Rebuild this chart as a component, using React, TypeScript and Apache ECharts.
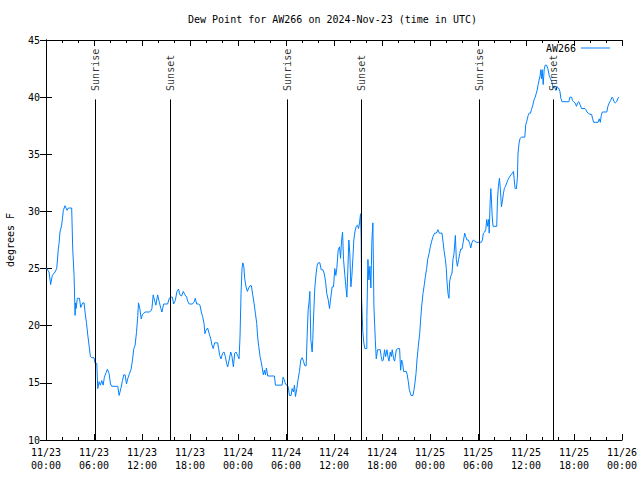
import React, { useEffect, useRef } from "react";
import * as echarts from "echarts";

// Hours after 2024-11-23 00:00 UTC
const hoursUTC = [
  0.0, 0.1, 0.38, 0.58, 0.79, 1.13, 1.34, 1.54, 1.63, 1.75, 1.96, 2.17, 2.38, 2.63, 2.8, 3.21, 3.34, 3.51, 3.63, 3.7,
  3.76, 3.92, 4.18, 4.34, 4.59, 4.76, 4.88, 5.05, 5.22, 5.38, 5.55, 5.72, 6.01, 6.14, 6.35, 6.47, 6.64, 6.8, 6.97, 7.14,
  7.3, 7.51, 7.68, 7.89, 8.06, 8.22, 8.97, 9.14, 9.39, 9.56, 9.72, 9.89, 10.06, 10.23, 10.43, 10.64, 10.81, 10.98, 11.14, 11.31,
  11.48, 11.56, 11.73, 11.9, 12.06, 12.23, 12.4, 12.9, 13.11, 13.24, 13.4, 13.61, 13.74, 13.95, 14.15, 14.36, 14.49, 14.7, 15.2, 15.41,
  15.6, 15.8, 15.95, 16.16, 16.37, 16.57, 16.74, 16.95, 17.16, 17.37, 17.58, 17.74, 17.9, 18.3, 18.54, 18.66, 18.83, 19.04, 19.25, 19.41,
  19.58, 19.75, 19.87, 20.0, 20.2, 20.4, 20.58, 20.75, 20.9, 21.08, 21.25, 21.46, 21.58, 21.71, 21.88, 22.08, 22.25, 22.42, 22.58, 22.71,
  22.92, 23.09, 23.25, 23.42, 23.59, 23.75, 23.96, 24.13, 24.25, 24.38, 24.5, 24.6, 24.72, 24.84, 25.0, 25.17, 25.34, 25.5, 25.67, 25.84,
  26.0, 26.17, 26.34, 26.46, 26.59, 26.76, 26.88, 27.01, 27.17, 27.3, 27.43, 27.55, 27.72, 28.55, 28.68, 29.51, 29.64, 29.76, 29.89, 30.05,
  30.26, 30.43, 30.64, 30.76, 30.93, 31.06, 31.18, 31.35, 31.51, 31.68, 31.85, 32.02, 32.18, 32.35, 32.52, 32.64, 32.77, 32.89, 32.98, 33.1,
  33.27, 33.35, 33.43, 33.6, 33.77, 33.9, 34.02, 34.23, 34.4, 34.6, 34.77, 34.94, 35.1, 35.27, 35.44, 35.6, 35.77, 35.94, 36.1, 36.23,
  36.35, 36.52, 36.69, 36.82, 36.94, 37.07, 37.19, 37.36, 37.5, 37.61, 37.73, 37.86, 37.98, 38.11, 38.23, 38.36, 38.48, 38.61, 38.78, 38.94,
  39.07, 39.19, 39.32, 39.4, 39.45, 39.6, 39.73, 39.86, 40.1, 40.11, 40.24, 40.36, 40.49, 40.61, 40.74, 40.86, 40.99, 41.16, 41.28, 41.45,
  41.62, 41.78, 41.9, 42.03, 42.16, 42.32, 42.45, 42.62, 42.74, 42.87, 43.03, 43.16, 43.28, 43.45, 43.58, 43.79, 44.0, 44.2, 44.33, 44.45,
  44.58, 44.7, 44.87, 45.04, 45.16, 45.29, 45.41, 45.54, 45.62, 45.87, 46.0, 46.12, 46.25, 46.37, 46.54, 46.71, 46.83, 46.96, 47.12, 47.29,
  47.42, 47.58, 47.71, 47.88, 48.04, 48.21, 48.38, 48.58, 48.79, 49.0, 49.16, 49.5, 49.62, 49.75, 49.92, 50.04, 50.12, 50.25, 50.37, 50.46,
  50.58, 50.75, 50.87, 51.0, 51.17, 51.29, 51.42, 51.58, 51.71, 51.84, 52.0, 52.17, 52.34, 52.46, 52.63, 52.8, 52.96, 53.09, 53.25, 53.42,
  53.59, 53.8, 54.42, 54.55, 54.67, 54.84, 54.97, 55.09, 55.22, 55.34, 55.4, 55.51, 55.6, 55.68, 55.76, 55.88, 56.34, 56.43, 56.55, 56.68,
  56.8, 56.93, 57.05, 57.18, 57.3, 57.43, 57.6, 57.76, 57.93, 58.1, 58.26, 58.43, 58.51, 58.64, 58.8, 58.93, 59.0, 59.14, 59.26, 59.43,
  59.85, 59.97, 60.1, 60.27, 60.4, 60.56, 60.68, 60.85, 61.02, 61.15, 61.27, 61.39, 61.52, 61.64, 61.77, 61.85, 61.94, 62.02, 62.15, 62.27,
  62.4, 62.56, 62.73, 62.9, 63.07, 63.2, 63.4, 63.57, 63.74, 63.9, 64.07, 64.24, 64.36, 64.5, 65.36, 65.49, 65.7, 65.82, 65.95, 66.12,
  66.32, 66.45, 66.62, 66.78, 66.95, 67.37, 67.49, 67.62, 67.78, 68.0, 68.2, 68.33, 68.45, 69.0, 69.16, 69.29, 69.41, 69.54, 70.1, 70.24,
  70.41, 70.58, 70.75, 70.87, 71.0, 71.16, 71.33, 71.5, 71.58,
];

const dewPointF = [
  25.0, 25.0, 24.7, 23.6, 24.4, 24.7, 25.0, 26.7, 27.2, 28.2, 28.8, 30.1, 30.5, 30.1, 30.3, 30.3, 26.7, 24.4, 20.9, 22.0,
  21.5, 22.4, 22.4, 21.6, 22.0, 22.0, 21.2, 20.3, 19.2, 18.3, 17.3, 17.2, 17.2, 16.7, 16.7, 14.5, 15.1, 14.8, 15.2, 14.8,
  15.5, 15.9, 16.2, 15.8, 14.9, 14.7, 14.7, 13.9, 14.6, 15.2, 15.7, 15.7, 14.9, 15.4, 15.8, 16.2, 17.0, 18.0, 18.3, 19.4,
  20.9, 22.0, 21.5, 20.6, 21.0, 21.1, 21.2, 21.2, 21.3, 21.5, 22.7, 22.1, 21.8, 22.7, 22.1, 21.5, 21.2, 21.9, 21.9, 22.4,
  22.5, 22.5, 21.9, 22.2, 23.0, 23.2, 22.7, 22.6, 23.0, 22.7, 22.5, 22.1, 21.9, 21.9, 22.1, 22.4, 21.9, 21.9, 21.8, 21.2,
  20.8, 20.2, 19.3, 19.6, 19.8, 19.3, 18.9, 18.3, 18.0, 18.5, 18.5, 18.5, 18.0, 17.4, 17.1, 17.6, 17.7, 17.3, 16.7, 16.4,
  17.1, 17.7, 17.3, 16.4, 17.6, 17.7, 17.4, 17.1, 19.0, 22.8, 25.0, 25.5, 25.2, 24.1, 23.4, 23.0, 23.3, 23.5, 23.5, 22.7,
  22.0, 21.1, 20.2, 19.0, 18.2, 17.3, 16.9, 16.4, 15.7, 16.1, 15.7, 16.3, 15.6, 15.6, 14.8, 14.8, 15.5, 15.3, 15.0, 14.8,
  14.7, 13.9, 13.9, 14.5, 14.2, 14.8, 13.8, 14.5, 15.3, 16.0, 17.0, 17.2, 16.9, 16.5, 16.5, 19.0, 21.4, 22.1, 23.0, 18.8,
  17.7, 18.8, 20.5, 23.3, 24.6, 25.3, 25.5, 25.5, 24.9, 24.9, 24.6, 23.9, 22.8, 22.3, 21.5, 22.5, 23.4, 23.4, 25.0, 24.4,
  25.0, 26.6, 26.9, 25.9, 27.4, 28.2, 25.8, 24.4, 23.3, 22.5, 24.9, 27.5, 26.3, 23.4, 24.3, 25.9, 27.5, 28.2, 28.7, 28.8,
  28.5, 29.0, 29.8, 27.5, 22.3, 19.5, 18.5, 18.0, 18.0, 20.8, 25.8, 24.0, 25.2, 23.3, 27.5, 29.0, 21.7, 18.8, 17.1, 17.9,
  17.9, 17.9, 17.3, 16.9, 17.0, 17.9, 17.3, 17.9, 17.3, 16.9, 17.7, 17.3, 17.9, 17.1, 16.9, 17.9, 18.0, 18.0, 16.1, 17.0,
  16.7, 16.0, 16.0, 16.0, 15.7, 15.1, 14.4, 14.1, 13.9, 13.9, 14.4, 15.0, 15.8, 17.0, 18.2, 19.3, 20.5, 21.7, 22.8, 23.6,
  24.3, 25.0, 25.8, 26.3, 26.9, 27.4, 27.8, 28.1, 28.1, 28.4, 28.1, 28.1, 27.4, 26.6, 25.8, 25.0, 23.9, 22.8, 22.4, 23.9,
  24.3, 24.6, 25.8, 26.3, 27.9, 25.8, 25.2, 25.8, 26.3, 26.7, 26.7, 27.4, 28.1, 27.8, 27.5, 27.5, 27.2, 26.8, 27.3, 27.5,
  27.4, 27.3, 27.3, 27.5, 28.1, 28.2, 28.4, 29.3, 28.7, 29.3, 28.1, 30.7, 32.0, 31.1, 29.7, 28.7, 28.7, 31.0, 32.2, 32.9,
  31.9, 30.4, 30.9, 31.6, 32.0, 32.2, 32.5, 32.8, 33.0, 33.2, 33.3, 33.5, 32.9, 32.0, 32.0, 33.0, 35.1, 36.0, 36.4, 36.5,
  36.5, 37.6, 37.9, 38.4, 38.6, 38.6, 38.9, 39.3, 39.8, 40.0, 40.3, 40.6, 41.1, 41.5, 41.9, 42.4, 41.6, 42.4, 41.1, 42.4,
  42.8, 42.8, 42.5, 41.9, 41.6, 41.4, 40.8, 40.9, 40.6, 40.9, 40.8, 40.5, 39.9, 39.6, 39.6, 40.0, 40.0, 39.7, 39.6, 39.5,
  39.2, 39.5, 39.6, 39.3, 39.0, 39.0, 38.9, 38.7, 38.6, 38.5, 38.5, 38.1, 37.8, 37.8, 38.1, 37.8, 38.4, 38.7, 38.7, 39.2,
  39.5, 39.7, 40.0, 39.9, 39.6, 39.5, 39.6, 39.9, 40.0,
];

const eventHours = [6.15, 15.53, 30.15, 39.43, 54.15, 63.41];
const eventNames = ["Sunrise", "Sunset", "Sunrise", "Sunset", "Sunrise", "Sunset"];
const eventBottom = 10;
const eventTop = 39.8;

const yTicks = { min: 10, max: 45, step: 5 };
const xTicks = { min: 0, max: 72, step: 6 };

const FONT = "DejaVu Sans Mono";

function fmtX(v: number): string {
  const day = 23 + Math.floor(v / 24 + 1e-9);
  const hr = Math.round(v - (day - 23) * 24);
  const hh = String(hr).padStart(2, "0");
  return `11/${day}\n${hh}:00`;
}

export default function App() {
  const ref = useRef<HTMLDivElement>(null);
  useEffect(() => {
    if (!ref.current) return;
    const chart = echarts.init(ref.current, null, { renderer: "svg" });
    const lineData = hoursUTC.map((h, i) => [h, dewPointF[i]]);
    const xBase = {
      type: "value",
      min: xTicks.min,
      max: xTicks.max,
      interval: xTicks.step,
      axisLine: { show: true, lineStyle: { color: "#000", width: 1 } },
      axisTick: { show: true, inside: true, length: 6, lineStyle: { color: "#000" } },
      minorTick: { show: true, splitNumber: 3, length: 3, lineStyle: { color: "#000" } },
      splitLine: { show: false },
    };
    const yBase = {
      type: "value",
      min: yTicks.min,
      max: yTicks.max,
      interval: yTicks.step,
      axisLine: { show: true, lineStyle: { color: "#000", width: 1 } },
      axisTick: { show: true, inside: true, length: 6, lineStyle: { color: "#000" } },
      splitLine: { show: false },
    };
    chart.setOption({
      animation: false,
      backgroundColor: "#fff",
      title: {
        text: "Dew Point for AW266 on 2024-Nov-23 (time in UTC)",
        left: 188,
        top: 14,
        padding: 0,
        textStyle: { fontFamily: FONT, fontSize: 10, fontWeight: "normal", color: "#000" },
      },
      legend: {
        data: ["AW266"],
        right: 30,
        top: 43,
        padding: 0,
        align: "right",
        icon: "rect",
        itemWidth: 29,
        itemHeight: 1,
        textStyle: { fontFamily: FONT, fontSize: 10, color: "#000" },
      },
      grid: {
        left: 46,
        right: 18,
        top: 40,
        bottom: 40,
        containLabel: false,
        outerBoundsMode: "none",
      },
      xAxis: [
        {
          ...xBase,
          position: "bottom",
          axisLabel: {
            show: true,
            formatter: fmtX,
            fontFamily: FONT,
            fontSize: 10,
            color: "#000",
            lineHeight: 13,
            margin: 6,
          },
        },
        { ...xBase, position: "top", axisLabel: { show: false } },
      ],
      yAxis: [
        {
          ...yBase,
          position: "left",
          name: "degrees F",
          nameLocation: "middle",
          nameGap: 31,
          nameRotate: 90,
          nameTextStyle: { fontFamily: FONT, fontSize: 10, color: "#000" },
          axisLabel: { show: true, fontFamily: FONT, fontSize: 10, color: "#000", margin: 6 },
        },
        { ...yBase, position: "right", axisLabel: { show: false } },
      ],
      series: [
        {
          name: "AW266",
          type: "line",
          data: lineData,
          symbol: "none",
          showSymbol: false,
          color: "#0080ff",
          lineStyle: { color: "#0080ff", width: 1 },
          silent: true,
          z: 2,
        },
        {
          name: "events",
          type: "scatter",
          silent: true,
          symbolSize: 1,
          itemStyle: { color: "rgba(0,0,0,0)" },
          z: 3,
          data: eventHours.map((h, i) => ({ name: eventNames[i], value: [h, eventTop] })),
          label: {
            show: true,
            formatter: (p: any) => p.name,
            position: "top",
            distance: 6,
            rotate: 90,
            align: "left",
            verticalAlign: "middle",
            offset: [2, 0],
            fontFamily: FONT,
            fontSize: 10,
            color: "#000",
          },
          markLine: {
            silent: true,
            symbol: ["none", "none"],
            label: { show: false },
            lineStyle: { color: "#000", width: 1, type: "solid" },
            emphasis: { disabled: true },
            data: eventHours.map((h) => [{ coord: [h, eventBottom] }, { coord: [h, eventTop] }]),
          },
        },
      ],
    });
    return () => chart.dispose();
  }, []);
  return (
    <div
      ref={ref}
      style={{ position: "fixed", left: 0, top: 0, width: 640, height: 480, background: "#fff" }}
    />
  );
}
